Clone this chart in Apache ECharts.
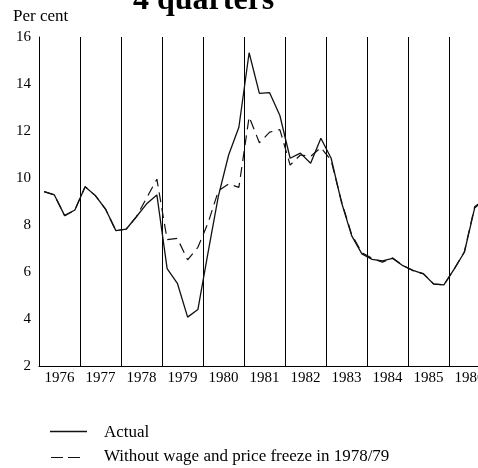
<!DOCTYPE html>
<html>
<head>
<meta charset="utf-8">
<script src="https://cdn.jsdelivr.net/npm/echarts@6/dist/echarts.min.js"></script>
<style>
  html, body { margin: 0; padding: 0; background: #fff; }
  #chart { width: 478px; height: 468px; }
</style>
</head>
<body>
<div id="chart"></div>
<script>
  // years on the x axis, 4 quarterly observations each
  var years = ['1976', '1977', '1978', '1979', '1980', '1981', '1982', '1983', '1984', '1985', '1986'];
  var yTicks = [2, 4, 6, 8, 10, 12, 14, 16];
  var seriesNames = ['Actual', 'Without wage and price freeze in 1978/79'];

  // per cent, change over 4 quarters
  var actual = [
    9.42, 9.28, 8.40, 8.64,
    9.63, 9.25, 8.67, 7.76,
    7.82, 8.35, 8.90, 9.28,
    6.14, 5.52, 4.08, 4.40,
    6.85, 9.23, 10.98, 12.16,
    15.33, 13.60, 13.63, 12.66,
    10.84, 11.06, 10.63, 11.69,
    10.84, 8.98, 7.55, 6.77,
    6.54, 6.47, 6.58, 6.27,
    6.07, 5.92, 5.49, 5.45,
    6.12, 6.84, 8.72, 9.10
  ];
  var withoutFreeze = [
    9.42, 9.28, 8.40, 8.64,
    9.63, 9.25, 8.67, 7.76,
    7.82, 8.35, 9.15, 9.95,
    7.38, 7.43, 6.52, 7.05,
    8.10, 9.45, 9.75, 9.60,
    12.60, 11.50, 11.95, 12.06,
    10.55, 10.98, 10.92, 11.30,
    10.75, 9.02, 7.60, 6.82,
    6.58, 6.42, 6.60, 6.28,
    6.05, 5.93, 5.49, 5.45,
    6.12, 6.86, 8.78, 9.10
  ];

  // put each quarter in the middle of its quarter of the year
  function toPoints(vals) {
    var pts = [];
    vals.forEach(function(v, i) {
      var yr = Number(years[0]) + Math.floor(i / 4);
      pts.push([yr + ((i % 4) + 0.5) / 4, v]);
    });
    return pts;
  }

  var serif = '"Liberation Serif", "DejaVu Serif", serif';
  var myChart = echarts.init(document.getElementById('chart'));

  var option = {
    animation: false,
    backgroundColor: '#fff',
    grid: {
      left: 39,
      top: 37,
      width: 451,
      height: 329,
      outerBoundsMode: 'none'
    },
    graphic: [
      {
        type: 'text',
        left: 133,
        top: -15,
        style: { text: '4 quarters', font: 'bold 32px ' + serif, fill: '#000' }
      },
      {
        type: 'text',
        left: 13,
        top: 8,
        style: { text: 'Per cent', font: '17px ' + serif, fill: '#000' }
      },
      // legend, drawn by hand so the keys are plain line samples
      {
        type: 'line',
        shape: { x1: 50, y1: 431.5, x2: 87, y2: 431.5 },
        style: { stroke: '#111', lineWidth: 1.3 }
      },
      {
        type: 'line',
        shape: { x1: 51, y1: 457.5, x2: 80, y2: 457.5 },
        style: { stroke: '#111', lineWidth: 1.2, lineDash: [12, 5] }
      },
      {
        type: 'text',
        left: 104,
        top: 424,
        style: { text: seriesNames[0], font: '17px ' + serif, fill: '#000' }
      },
      {
        type: 'text',
        left: 104,
        top: 448,
        style: { text: seriesNames[1], font: '17px ' + serif, fill: '#000' }
      }
    ],
    xAxis: [
      {
        type: 'value',
        min: Number(years[0]),
        max: Number(years[0]) + years.length,
        show: false
      },
      {
        type: 'category',
        data: years,
        boundaryGap: true,
        position: 'bottom',
        axisLine: { show: true, lineStyle: { color: '#000', width: 1 } },
        axisTick: { show: false },
        axisLabel: { interval: 0, margin: 5, color: '#000', fontFamily: serif, fontSize: 15 },
        splitLine: { show: true, interval: 0, lineStyle: { color: '#000', width: 1 } }
      }
    ],
    yAxis: {
      type: 'value',
      min: yTicks[0],
      max: yTicks[yTicks.length - 1],
      interval: 2,
      axisLine: { show: true, lineStyle: { color: '#000', width: 1 } },
      axisTick: { show: false },
      axisLabel: { margin: 8, color: '#000', fontFamily: serif, fontSize: 15 },
      splitLine: { show: false }
    },
    series: [
      {
        name: seriesNames[1],
        type: 'line',
        xAxisIndex: 0,
        data: toPoints(withoutFreeze),
        symbol: 'none',
        lineStyle: { color: '#111', width: 1.2, type: [10, 6] }
      },
      {
        name: seriesNames[0],
        type: 'line',
        xAxisIndex: 0,
        data: toPoints(actual),
        symbol: 'none',
        lineStyle: { color: '#111', width: 1.3 }
      }
    ]
  };
  myChart.setOption(option);
</script>
</body>
</html>
